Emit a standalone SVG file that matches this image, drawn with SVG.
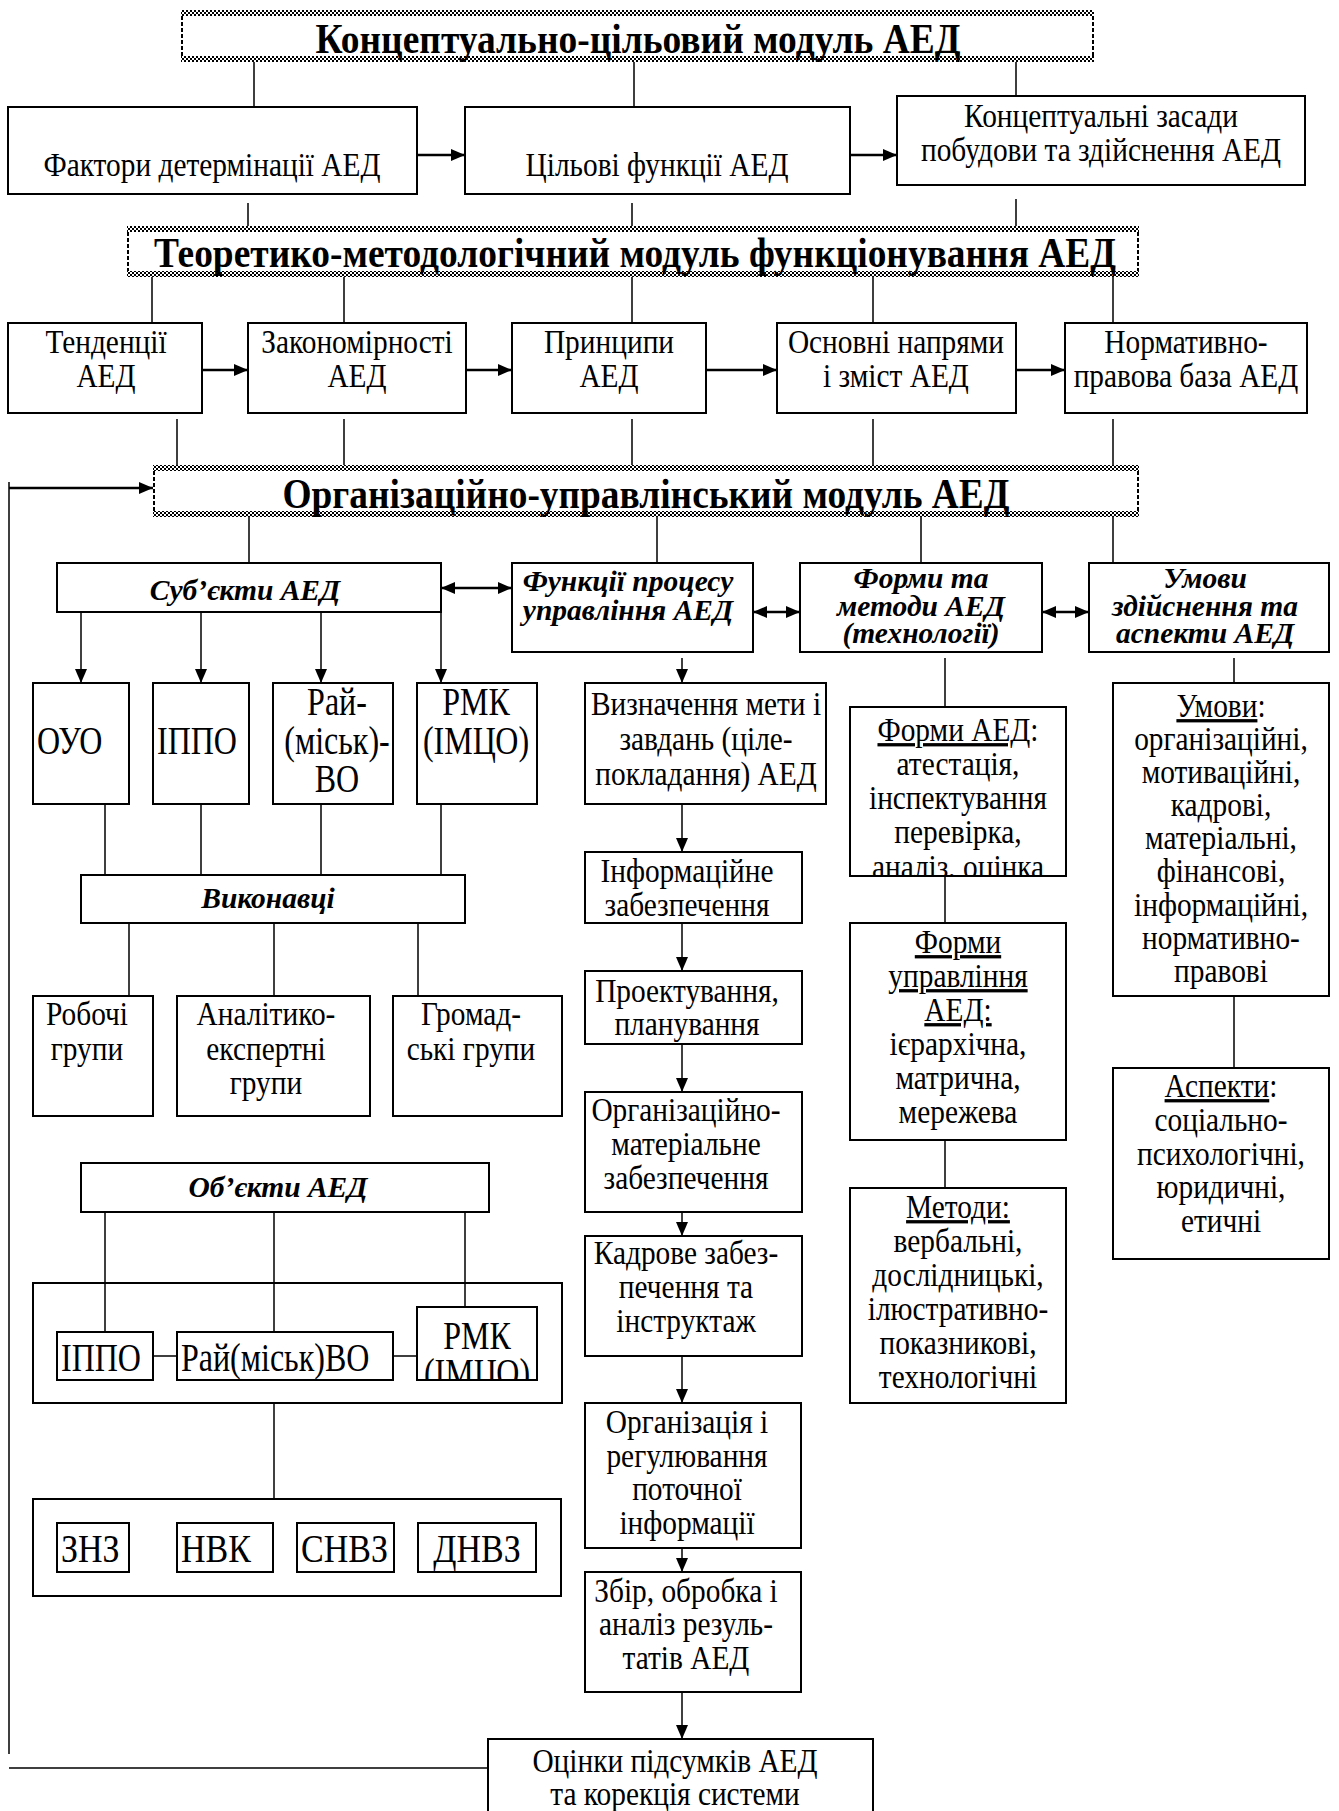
<svg xmlns="http://www.w3.org/2000/svg" width="1339" height="1811" viewBox="0 0 1339 1811">
<defs>
<style>
.b{fill:#fff;stroke:#000;stroke-width:2}
.o{fill:none;stroke:#000;stroke-width:2}
.t{font-family:"Liberation Serif","Times New Roman",serif;font-size:33px;text-anchor:middle;fill:#000}
.k{font-size:40px}
.s{text-anchor:start}
.h{font-weight:bold;font-size:42px}
.bi{font-weight:bold;font-style:italic;font-size:29.5px}
.u{text-decoration:underline}
.c{fill:none;stroke:#000;stroke-width:1.5}
.a{marker-end:url(#ah)}
.d{marker-start:url(#ah);marker-end:url(#ah)}
.w{stroke-width:2.5}
.band{fill:url(#chk)}
.side{stroke:#000;stroke-width:2;stroke-dasharray:4 2}
</style>
<pattern id="chk" width="4" height="4" patternUnits="userSpaceOnUse"><rect width="4" height="4" fill="#fff"/><rect width="2" height="2" fill="#000"/><rect x="2" y="2" width="2" height="2" fill="#000"/></pattern>
<marker id="ah" viewBox="0 0 14 12" refX="14" refY="6" markerWidth="14" markerHeight="12" markerUnits="userSpaceOnUse" orient="auto-start-reverse"><path d="M0,0L14,6L0,12z" fill="#000"/></marker>
<clipPath id="clipF"><rect x="851" y="708" width="214" height="167"/></clipPath>
<clipPath id="clipR"><rect x="418" y="1308" width="118" height="71"/></clipPath>
</defs>
<rect width="1339" height="1811" fill="#fff"/>

<g id="connectors">
<path class="c" d="M254 62V107M634 62V107M1016 62V96"/>
<path class="c w a" d="M417 155H465"/>
<path class="c w a" d="M850 155H897"/>
<path class="c" d="M248 203V226M632 203V226M1016 199V226"/>
<path class="c" d="M152 277V323M344 277V323M632 277V323M873 277V323M1113 277V323"/>
<path class="c w a" d="M202 370H248"/>
<path class="c w a" d="M466 370H512"/>
<path class="c w a" d="M706 370H777"/>
<path class="c w a" d="M1016 370H1065"/>
<path class="c" d="M177 419V465M344 419V465M632 419V465M873 419V465M1113 419V465"/>
<path class="c" d="M9 482V1754M9 1768H488"/>
<path class="c w a" d="M9 488H153"/>
<path class="c" d="M249 517V563M657 517V563M921 517V563M1113 517V563"/>
<path class="c w d" d="M441 588H512"/>
<path class="c w d" d="M753 612H800"/>
<path class="c w d" d="M1042 612H1089"/>
<path class="c a" d="M81 612V683"/>
<path class="c a" d="M201 612V683"/>
<path class="c a" d="M321 612V683"/>
<path class="c a" d="M441 612V683"/>
<path class="c" d="M105 804V875M201 804V875M321 804V875M441 804V875"/>
<path class="c" d="M129 923V996M274 923V996M418 923V996"/>
<path class="c" d="M105 1212V1332M274 1212V1332M465 1212V1307"/>
<path class="c" d="M153 1356H177M393 1356H417"/>
<path class="c" d="M274 1403V1499"/>
<path class="c a" d="M682 658V683"/>
<path class="c a" d="M682 804V852"/>
<path class="c a" d="M682 923V971"/>
<path class="c a" d="M682 1044V1092"/>
<path class="c a" d="M682 1212V1236"/>
<path class="c a" d="M682 1356V1403"/>
<path class="c a" d="M682 1548V1572"/>
<path class="c a" d="M682 1692V1739"/>
<path class="c" d="M945 658V707M945 876V923M945 1140V1188"/>
<path class="c" d="M1234 658V683M1234 996V1068"/>
</g>

<g id="h1">
<rect x="181" y="10" width="913" height="52" fill="#fff"/>
<rect class="band" x="181" y="10" width="913" height="6"/>
<rect class="band" x="181" y="56" width="913" height="6"/>
<path class="side" d="M182 16V56M1093 16V56"/>
<text class="t h" x="638" y="53" textLength="645" lengthAdjust="spacingAndGlyphs">Концептуально-цільовий модуль АЕД</text>
</g>
<g id="f1"><rect class="b" x="8" y="107" width="409" height="87"/><text class="t" transform="matrix(.89 0 0 1 23.32 0)" x="212" y="176">Фактори детермінації АЕД</text></g>
<g id="f2"><rect class="b" x="465" y="107" width="385" height="87"/><text class="t" transform="matrix(.89 0 0 1 72.27 0)" x="657" y="176">Цільові функції АЕД</text></g>
<g id="f3"><rect class="b" x="897" y="96" width="408" height="89"/><text class="t" transform="matrix(.89 0 0 1 121.11 0)" x="1101" y="127"><tspan x="1101">Концептуальні засади</tspan><tspan x="1101" dy="34">побудови та здійснення АЕД</tspan></text></g>

<g id="h2">
<rect x="127" y="226" width="1012" height="51" fill="#fff"/>
<rect class="band" x="127" y="226" width="1012" height="6"/>
<rect class="band" x="127" y="271" width="1012" height="6"/>
<path class="side" d="M128 232V271M1138 232V271"/>
<text class="t h" x="635" y="267" textLength="962" lengthAdjust="spacingAndGlyphs">Теоретико-методологічний модуль функціонування АЕД</text>
</g>
<g id="r1"><rect class="b" x="8" y="323" width="194" height="90"/><text class="t" transform="matrix(.89 0 0 1 11.66 0)" x="106" y="353"><tspan x="106">Тенденції</tspan><tspan x="106" dy="34">АЕД</tspan></text></g>
<g id="r2"><rect class="b" x="248" y="323" width="218" height="90"/><text class="t" transform="matrix(.89 0 0 1 39.27 0)" x="357" y="353"><tspan x="357">Закономірності</tspan><tspan x="357" dy="34">АЕД</tspan></text></g>
<g id="r3"><rect class="b" x="512" y="323" width="194" height="90"/><text class="t" transform="matrix(.89 0 0 1 66.99 0)" x="609" y="353"><tspan x="609">Принципи</tspan><tspan x="609" dy="34">АЕД</tspan></text></g>
<g id="r4"><rect class="b" x="777" y="323" width="239" height="90"/><text class="t" transform="matrix(.89 0 0 1 98.56 0)" x="896" y="353"><tspan x="896">Основні напрями</tspan><tspan x="896" dy="34">і зміст АЕД</tspan></text></g>
<g id="r5"><rect class="b" x="1065" y="323" width="242" height="90"/><text class="t" transform="matrix(.89 0 0 1 130.46 0)" x="1186" y="353"><tspan x="1186">Нормативно-</tspan><tspan x="1186" dy="34">правова база АЕД</tspan></text></g>

<g id="h3">
<rect x="153" y="465" width="986" height="52" fill="#fff"/>
<rect class="band" x="153" y="465" width="986" height="6"/>
<rect class="band" x="153" y="511" width="986" height="6"/>
<path class="side" d="M154 471V511M1138 471V511"/>
<text class="t h" x="646" y="508" textLength="727" lengthAdjust="spacingAndGlyphs">Організаційно-управлінський модуль АЕД</text>
</g>

<g id="subjects"><rect class="b" x="57" y="563" width="384" height="49"/><text class="t bi" x="245" y="600">Суб’єкти АЕД</text></g>
<g id="functions"><rect class="b" x="512" y="563" width="241" height="89"/><text class="t bi" x="628" y="591"><tspan x="628">Функції процесу</tspan><tspan x="628" dy="28.5">управління АЕД</tspan></text></g>
<g id="forms"><rect class="b" x="800" y="563" width="242" height="89"/><text class="t bi" x="921" y="588"><tspan x="921">Форми та</tspan><tspan x="921" dy="27.5">методи АЕД</tspan><tspan x="921" dy="27.5">(технології)</tspan></text></g>
<g id="conditions"><rect class="b" x="1089" y="563" width="240" height="89"/><text class="t bi" x="1205" y="588"><tspan x="1205">Умови</tspan><tspan x="1205" dy="27.5">здійснення та</tspan><tspan x="1205" dy="27.5">аспекти АЕД</tspan></text></g>

<g id="ouo"><rect class="b" x="33" y="683" width="96" height="121"/><text class="t k s" transform="matrix(.8 0 0 1 7.4 0)" x="37" y="754">ОУО</text></g>
<g id="ippo1"><rect class="b" x="153" y="683" width="96" height="121"/><text class="t k s" transform="matrix(.8 0 0 1 31.4 0)" x="157" y="754">ІППО</text></g>
<g id="raivo1"><rect class="b" x="273" y="683" width="120" height="121"/><text class="t k" transform="matrix(.8 0 0 1 67.4 0)" x="337" y="715"><tspan x="337">Рай-</tspan><tspan x="337" dy="39">(міськ)-</tspan><tspan x="337" dy="38">ВО</tspan></text></g>
<g id="rmk1"><rect class="b" x="417" y="683" width="120" height="121"/><text class="t k" transform="matrix(.8 0 0 1 95.2 0)" x="476" y="715"><tspan x="476">РМК</tspan><tspan x="476" dy="39">(ІМЦО)</tspan></text></g>

<g id="executors"><rect class="b" x="81" y="875" width="384" height="48"/><text class="t bi" x="268" y="908">Виконавці</text></g>
<g id="work"><rect class="b" x="33" y="996" width="120" height="120"/><text class="t" transform="matrix(.89 0 0 1 9.57 0)" x="87" y="1025"><tspan x="87">Робочі</tspan><tspan x="87" dy="35">групи</tspan></text></g>
<g id="analytic"><rect class="b" x="177" y="996" width="193" height="120"/><text class="t" transform="matrix(.89 0 0 1 29.26 0)" x="266" y="1025"><tspan x="266">Аналітико-</tspan><tspan x="266" dy="35">експертні</tspan><tspan x="266" dy="34">групи</tspan></text></g>
<g id="public"><rect class="b" x="393" y="996" width="169" height="120"/><text class="t" transform="matrix(.89 0 0 1 51.81 0)" x="471" y="1025"><tspan x="471">Громад-</tspan><tspan x="471" dy="35">ські групи</tspan></text></g>

<g id="objects"><rect class="b" x="81" y="1163" width="408" height="49"/><text class="t bi" x="278" y="1197">Об’єкти АЕД</text></g>
<g id="objgroup1"><rect class="o" x="33" y="1283" width="529" height="120"/></g>
<g id="ippo2"><rect class="b" x="57" y="1332" width="96" height="48"/><text class="t k s" transform="matrix(.8 0 0 1 12.2 0)" x="61" y="1371">ІППО</text></g>
<g id="raivo2"><rect class="b" x="177" y="1332" width="216" height="48"/><text class="t k s" transform="matrix(.8 0 0 1 36.2 0)" x="181" y="1371">Рай(міськ)ВО</text></g>
<g id="rmk2"><rect class="b" x="417" y="1307" width="120" height="73"/><g clip-path="url(#clipR)"><text class="t k" transform="matrix(.8 0 0 1 95.4 0)" x="477" y="1349"><tspan x="477">РМК</tspan><tspan x="477" dy="37">(ІМЦО)</tspan></text></g></g>
<g id="objgroup2"><rect class="o" x="33" y="1499" width="528" height="97"/></g>
<g id="znz"><rect class="b" x="57" y="1523" width="72" height="49"/><text class="t k s" transform="matrix(.85 0 0 1 9.15 0)" x="61" y="1562">ЗНЗ</text></g>
<g id="nvk"><rect class="b" x="177" y="1523" width="96" height="49"/><text class="t k s" transform="matrix(.85 0 0 1 27.15 0)" x="181" y="1562">НВК</text></g>
<g id="snvz"><rect class="b" x="297" y="1523" width="97" height="49"/><text class="t k s" transform="matrix(.85 0 0 1 45.15 0)" x="301" y="1562">СНВЗ</text></g>
<g id="dnvz"><rect class="b" x="418" y="1523" width="118" height="49"/><text class="t k" transform="matrix(.85 0 0 1 71.55 0)" x="477" y="1562">ДНВЗ</text></g>

<g id="goal"><rect class="b" x="585" y="683" width="241" height="121"/><text class="t" transform="matrix(.89 0 0 1 77.66 0)" x="706" y="715"><tspan x="706">Визначення мети і</tspan><tspan x="706" dy="35">завдань (ціле-</tspan><tspan x="706" dy="35">покладання) АЕД</tspan></text></g>
<g id="info"><rect class="b" x="585" y="852" width="217" height="71"/><text class="t" transform="matrix(.89 0 0 1 75.57 0)" x="687" y="882"><tspan x="687">Інформаційне</tspan><tspan x="687" dy="34">забезпечення</tspan></text></g>
<g id="design"><rect class="b" x="585" y="971" width="217" height="73"/><text class="t" transform="matrix(.89 0 0 1 75.57 0)" x="687" y="1002"><tspan x="687">Проектування,</tspan><tspan x="687" dy="33">планування</tspan></text></g>
<g id="orgmat"><rect class="b" x="585" y="1092" width="217" height="120"/><text class="t" transform="matrix(.89 0 0 1 75.46 0)" x="686" y="1121"><tspan x="686">Організаційно-</tspan><tspan x="686" dy="34">матеріальне</tspan><tspan x="686" dy="34">забезпечення</tspan></text></g>
<g id="staff"><rect class="b" x="585" y="1236" width="217" height="120"/><text class="t" transform="matrix(.89 0 0 1 75.46 0)" x="686" y="1264"><tspan x="686">Кадрове забез-</tspan><tspan x="686" dy="34">печення та</tspan><tspan x="686" dy="34">інструктаж</tspan></text></g>
<g id="regulation"><rect class="b" x="585" y="1403" width="216" height="145"/><text class="t" transform="matrix(.89 0 0 1 75.57 0)" x="687" y="1433"><tspan x="687">Організація і</tspan><tspan x="687" dy="34">регулювання</tspan><tspan x="687" dy="33">поточної</tspan><tspan x="687" dy="34">інформації</tspan></text></g>
<g id="collect"><rect class="b" x="585" y="1572" width="216" height="120"/><text class="t" transform="matrix(.89 0 0 1 75.46 0)" x="686" y="1602"><tspan x="686">Збір, обробка і</tspan><tspan x="686" dy="33">аналіз резуль-</tspan><tspan x="686" dy="34">татів АЕД</tspan></text></g>
<g id="evaluation"><rect class="b" x="488" y="1739" width="385" height="80"/><text class="t" transform="matrix(.89 0 0 1 74.25 0)" x="675" y="1772"><tspan x="675">Оцінки підсумків АЕД</tspan><tspan x="675" dy="33">та корекція системи</tspan></text></g>

<g id="formsAED"><rect class="b" x="850" y="707" width="216" height="169"/><g clip-path="url(#clipF)"><text class="t" transform="matrix(.89 0 0 1 105.38 0)" x="958" y="741"><tspan x="958"><tspan class="u">Форми АЕД</tspan>:</tspan><tspan x="958" dy="34">атестація,</tspan><tspan x="958" dy="34">інспектування</tspan><tspan x="958" dy="34">перевірка,</tspan><tspan x="958" dy="35">аналіз, оцінка</tspan></text></g></g>
<g id="mgmtForms"><rect class="b" x="850" y="923" width="216" height="217"/><text class="t" transform="matrix(.89 0 0 1 105.38 0)" x="958" y="953"><tspan x="958" class="u">Форми</tspan><tspan x="958" dy="34" class="u">управління</tspan><tspan x="958" dy="34" class="u">АЕД:</tspan><tspan x="958" dy="34">ієрархічна,</tspan><tspan x="958" dy="34">матрична,</tspan><tspan x="958" dy="34">мережева</tspan></text></g>
<g id="methods"><rect class="b" x="850" y="1188" width="216" height="215"/><text class="t" transform="matrix(.89 0 0 1 105.38 0)" x="958" y="1218"><tspan x="958" class="u">Методи:</tspan><tspan x="958" dy="34">вербальні,</tspan><tspan x="958" dy="34">дослідницькі,</tspan><tspan x="958" dy="34">ілюстративно-</tspan><tspan x="958" dy="34">показникові,</tspan><tspan x="958" dy="34">технологічні</tspan></text></g>

<g id="condList"><rect class="b" x="1113" y="683" width="216" height="313"/><text class="t" transform="matrix(.89 0 0 1 134.31 0)" x="1221" y="717"><tspan x="1221"><tspan class="u">Умови</tspan>:</tspan><tspan x="1221" dy="33">організаційні,</tspan><tspan x="1221" dy="33">мотиваційні,</tspan><tspan x="1221" dy="33">кадрові,</tspan><tspan x="1221" dy="33">матеріальні,</tspan><tspan x="1221" dy="33">фінансові,</tspan><tspan x="1221" dy="34">інформаційні,</tspan><tspan x="1221" dy="33">нормативно-</tspan><tspan x="1221" dy="33">правові</tspan></text></g>
<g id="aspects"><rect class="b" x="1113" y="1068" width="216" height="191"/><text class="t" transform="matrix(.89 0 0 1 134.31 0)" x="1221" y="1097"><tspan x="1221"><tspan class="u">Аспекти</tspan>:</tspan><tspan x="1221" dy="34">соціально-</tspan><tspan x="1221" dy="34">психологічні,</tspan><tspan x="1221" dy="33">юридичні,</tspan><tspan x="1221" dy="34">етичні</tspan></text></g>
</svg>
